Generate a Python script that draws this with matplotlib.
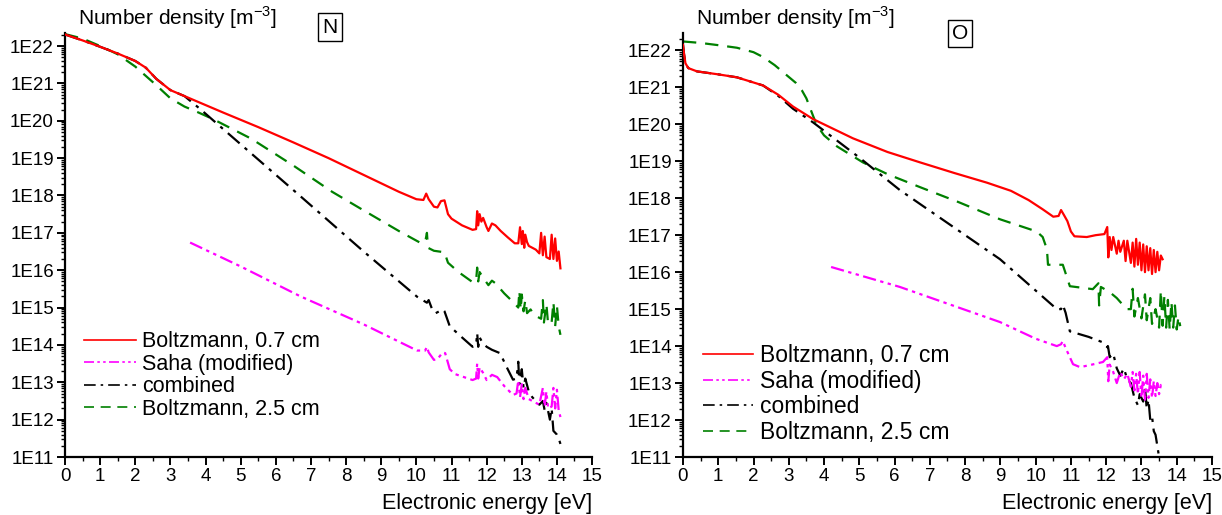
import numpy as np
import matplotlib
matplotlib.use('Agg')
import matplotlib.pyplot as plt
from matplotlib.ticker import LogLocator, MultipleLocator, FuncFormatter, NullFormatter

plt.rcParams['font.family'] = ['Liberation Sans', 'DejaVu Sans']

# values are log10 of number density [m^-3]
# --- N panel ---
n_red_x = [0, 0.5, 1.0, 1.5, 2.0, 2.3, 2.6, 3.0, 3.4, 3.8, 4.5, 5.5, 6.5, 7.5, 8.5, 9.5, 10.0,
           10.2, 10.28, 10.35, 10.5, 10.6, 10.7, 10.8, 10.9, 11.0, 11.3, 11.6, 11.7, 11.73, 11.76,
           11.8, 11.85, 11.9, 12.0, 12.05, 12.15, 12.25, 12.4, 12.6, 12.8,
           12.9, 12.95, 13.0, 13.03, 13.07, 13.1, 13.15, 13.2, 13.3, 13.4, 13.5, 13.55, 13.6,
           13.65, 13.7, 13.8, 13.85, 13.9, 13.95, 14.0, 14.05, 14.1]
n_red_y = [22.31, 22.15, 21.98, 21.8, 21.6, 21.42, 21.12, 20.82, 20.66, 20.5, 20.22, 19.83, 19.42,
           19.0, 18.55, 18.1, 17.9, 17.88, 18.05, 17.9, 17.7, 17.68, 17.85, 17.87, 17.5, 17.38,
           17.2, 17.08, 17.1, 17.58, 17.2, 17.5, 17.3, 17.4, 17.15, 17.05, 17.25, 17.2, 17.05,
           16.88, 16.72,
           16.72, 17.15, 16.7, 17.05, 16.6, 16.95, 16.75, 16.65, 16.6, 16.55, 16.45, 17.0, 16.4,
           16.9, 16.35, 16.3, 16.95, 16.3, 16.85, 16.25, 16.5, 16.05]

n_saha_x = [3.56, 5.0, 6.7, 8.5, 10.02, 10.25, 10.3, 10.35, 10.5, 10.6, 10.75, 10.82, 10.95, 11.1,
            11.6, 11.7, 11.73, 11.76, 11.8, 11.9, 12.0, 12.15, 12.3, 12.5, 12.75,
            12.85, 12.9, 12.95, 13.0, 13.05, 13.1, 13.2, 13.3, 13.4, 13.5, 13.6, 13.65, 13.7,
            13.75, 13.85, 13.9, 13.95, 14.0, 14.05, 14.1]
n_saha_y = [16.74, 16.1, 15.3, 14.55, 13.85, 13.85, 13.95, 13.8, 13.6, 13.62, 13.8, 13.78, 13.35,
            13.22, 13.06, 13.1, 13.5, 13.1, 13.4, 13.25, 13.06, 13.2, 13.14, 12.9, 12.66,
            12.7, 13.05, 12.6, 12.95, 12.55, 12.85, 12.55, 12.5, 12.45, 12.4, 12.85, 12.35, 12.75,
            12.3, 12.35, 12.85, 12.3, 12.8, 12.25, 12.07]

n_comb_x = [0, 0.5, 1.0, 1.5, 2.0, 2.3, 2.6, 3.0, 3.4, 3.84, 4.78, 6.7, 8.5, 10.02, 10.3, 10.35,
            10.45, 10.55, 10.75, 10.8, 10.95, 11.3, 11.6, 11.7, 11.73, 11.76, 11.8, 11.87, 12.0,
            12.15, 12.38, 12.6, 12.75,
            12.85, 12.9, 12.93, 13.0, 13.05, 13.1, 13.2, 13.3, 13.4, 13.5, 13.6, 13.65, 13.7,
            13.8, 13.85, 13.9, 14.0, 14.05, 14.1]
n_comb_y = [22.31, 22.15, 21.98, 21.8, 21.6, 21.42, 21.12, 20.82, 20.66, 20.32, 19.55, 17.98, 16.5,
            15.29, 15.13, 15.2, 14.95, 14.85, 14.95, 14.9, 14.5, 14.2, 13.95, 14.0, 14.32, 13.95,
            14.2, 14.08, 13.95, 13.87, 13.78, 13.35, 13.07,
            13.1, 13.55, 12.95, 13.35, 12.85, 13.1, 12.75, 12.6, 12.5, 12.4, 12.5, 12.25, 12.45,
            12.0, 12.3, 11.7, 11.6, 11.5, 11.35]

n_b25_x = [0, 0.5, 1.0, 1.5, 2.0, 2.3, 2.6, 3.0, 3.4, 3.8, 4.2, 5.3, 6.5, 7.6, 8.5, 9.5, 10.1,
           10.25, 10.3, 10.33, 10.5, 10.8, 10.9, 11.2, 11.6, 11.7, 11.73, 11.76, 11.8, 11.9,
           12.05, 12.15, 12.25, 12.5, 12.75,
           12.9, 12.93, 12.97, 13.0, 13.05, 13.1, 13.15, 13.25, 13.35, 13.45, 13.55, 13.6, 13.63,
           13.7, 13.75, 13.85, 13.9, 13.95, 14.0, 14.05, 14.1]
n_b25_y = [22.32, 22.2, 22.0, 21.78, 21.45, 21.2, 20.95, 20.6, 20.38, 20.22, 20.05, 19.52, 18.8,
           18.1, 17.6, 17.05, 16.74, 16.75, 17.0, 16.6, 16.52, 16.48, 16.2, 15.95, 15.68, 15.72,
           16.07, 15.7, 15.95, 15.8, 15.6, 15.72, 15.65, 15.38, 15.15,
           15.0, 15.45, 14.95, 15.35, 14.9, 15.2, 14.85, 14.95, 14.8, 14.75, 14.7, 15.2, 14.6,
           15.1, 14.55, 14.6, 15.15, 14.5, 15.05, 14.5, 14.27]

# --- O panel ---
o_red_x = [0, 0.03, 0.07, 0.15, 0.4, 1.0, 1.53, 2.27, 2.7, 3.12, 3.69, 4.82, 5.8, 6.72, 7.7, 8.62,
           9.3, 9.8, 10.2, 10.5, 10.65, 10.72, 10.8, 10.9, 11.0, 11.1, 11.45, 11.7, 11.95, 12.03,
           12.06, 12.1, 12.15, 12.2, 12.3, 12.35, 12.4, 12.5, 12.55, 12.6, 12.7, 12.75, 12.8,
           12.85, 12.9, 12.95, 13.0, 13.05, 13.1, 13.15, 13.2, 13.25, 13.3, 13.35, 13.4, 13.45,
           13.5, 13.55, 13.6]
o_red_y = [22.15, 21.9, 21.65, 21.52, 21.43, 21.35, 21.27, 21.05, 20.8, 20.48, 20.14, 19.62, 19.25,
           18.97, 18.68, 18.42, 18.2, 17.95, 17.7, 17.5, 17.52, 17.68, 17.55, 17.38, 17.1, 16.97,
           16.95, 17.0, 17.03, 17.22,
           16.4, 16.95, 16.6, 16.95, 16.5, 16.85, 16.55, 16.85, 16.3, 16.85, 16.25, 16.8, 16.15,
           16.9, 16.2, 16.8, 16.05, 16.75, 16.0, 16.7, 16.05, 16.65, 15.95, 16.6, 16.0, 16.55,
           16.05, 16.45, 16.35]

o_saha_x = [4.2, 6.15, 8.99, 10.0, 10.6, 10.72, 10.77, 10.85, 11.06, 11.26, 11.6, 11.91, 12.03,
            12.06, 12.1, 12.2, 12.3, 12.4, 12.5, 12.6, 12.7, 12.75, 12.8, 12.85, 12.9, 12.95,
            13.0, 13.05, 13.1, 13.15, 13.2, 13.25, 13.3, 13.35, 13.4, 13.45, 13.5, 13.55, 13.6]
o_saha_y = [16.14, 15.6, 14.65, 14.2, 14.0, 14.05, 14.14, 13.95, 13.51, 13.43, 13.5, 13.57, 13.7,
            13.05, 13.5, 13.3, 13.0, 13.3, 13.1, 13.25, 12.9, 13.3, 12.8, 13.25, 12.7, 13.3,
            12.6, 13.2, 12.55, 13.25, 12.6, 13.1, 12.6, 13.05, 12.65, 13.0, 12.7, 12.95, 12.85]

o_comb_x = [0, 0.03, 0.07, 0.15, 0.4, 1.0, 1.53, 2.27, 2.7, 3.12, 3.69, 5.0, 6.15, 8.99, 10.6,
            10.72, 10.77, 10.85, 10.97, 11.5, 11.91, 12.03, 12.05, 12.1, 12.2, 12.3, 12.4, 12.5,
            12.6, 12.7, 12.8, 12.9, 12.95, 13.05, 13.1, 13.15, 13.2, 13.25, 13.3, 13.35, 13.4,
            13.45, 13.5]
o_comb_y = [22.15, 21.9, 21.65, 21.52, 21.43, 21.35, 21.27, 21.05, 20.77, 20.42, 20.05, 19.1, 18.22,
            16.35, 15.0, 15.0, 15.12, 14.9, 14.4, 14.25, 14.1, 13.97, 14.0, 13.7, 13.8, 13.4,
            13.2, 13.4, 13.1, 13.0, 12.6, 12.4, 12.7, 12.5, 12.9, 12.3, 12.55, 12.0, 12.1, 11.7,
            11.6, 11.3, 11.0]

o_b25_x = [0, 0.5, 1.0, 1.53, 2.0, 2.27, 2.6, 2.95, 3.2, 3.37, 3.5, 3.6, 3.7, 3.8, 4.0, 4.37, 5.1,
           5.8, 6.72, 7.8, 8.99, 10.03, 10.2, 10.32, 10.35, 10.6, 10.77, 10.97, 11.3, 11.62,
           11.78, 11.8, 11.85, 12.1, 12.3, 12.58,
           12.7, 12.75, 12.8, 12.9, 13.0, 13.1, 13.15, 13.25, 13.3, 13.4, 13.5, 13.55, 13.6,
           13.65, 13.7, 13.75, 13.8, 13.85, 13.9, 13.95, 14.0, 14.05, 14.1]
o_b25_y = [22.24, 22.2, 22.14, 22.07, 21.95, 21.82, 21.6, 21.32, 21.12, 20.92, 20.7, 20.45, 20.2,
           19.97, 19.7, 19.4, 18.97, 18.65, 18.3, 17.9, 17.43, 17.1, 16.95, 16.62, 16.2, 16.2,
           16.2, 15.62, 15.58, 15.54, 15.7, 15.1, 15.6, 15.46, 15.3, 15.0,
           15.0, 15.55, 14.8, 15.3, 14.75, 15.4, 14.7, 15.3, 14.6, 15.0, 14.5, 15.5, 14.55,
           15.35, 14.5, 15.25, 14.45, 15.2, 14.5, 15.1, 14.45, 14.8, 14.54]

labels = ['Boltzmann, 0.7 cm', 'Saha (modified)', 'combined', 'Boltzmann, 2.5 cm']
colors = ['#ff0000', '#ff00ff', '#000000', '#008000']
styles = ['-', (0, (6, 2, 1.5, 2, 1.5, 2)), (0, (7, 3, 1.5, 3)), (0, (6, 4))]
zorders = [5, 4, 3, 2]

panels = [
    ('N', [(n_red_x, n_red_y), (n_saha_x, n_saha_y), (n_comb_x, n_comb_y), (n_b25_x, n_b25_y)], 22.35),
    ('O', [(o_red_x, o_red_y), (o_saha_x, o_saha_y), (o_comb_x, o_comb_y), (o_b25_x, o_b25_y)], 22.47),
]

fig = plt.figure(figsize=(12.22, 5.15), dpi=100)
boxes = [[0.0532, 0.1126, 0.4313, 0.8234], [0.5589, 0.1126, 0.4329, 0.8234]]
box_pos = [(0.503, 1.014), (0.524, 0.998)]
leg_font = [15.5, 16.5]
leg_space = [0.07, 0.12]
leg_handle = [2.4, 2.2]
leg_anchor = [(0.02, 0.068), (0.02, 0.009)]

for k, (name, series, ytop) in enumerate(panels):
    ax = fig.add_axes(boxes[k])
    for (xs, ys), lab, c, ls, z in zip(series, labels, colors, styles, zorders):
        ax.plot(xs, 10 ** np.array(ys), color=c, linestyle=ls, lw=1.6, label=lab, zorder=z)
    ax.set_yscale('log')
    ax.set_xlim(0, 15)
    ax.set_ylim(1e11, 10 ** ytop)
    ax.spines['top'].set_visible(False)
    ax.spines['right'].set_visible(False)
    ax.spines['left'].set_linewidth(1.6)
    ax.spines['bottom'].set_linewidth(1.6)
    ax.xaxis.set_major_locator(MultipleLocator(1))
    ax.xaxis.set_minor_locator(MultipleLocator(0.5))
    ax.yaxis.set_major_locator(LogLocator(base=10, numticks=20))
    ax.yaxis.set_minor_locator(LogLocator(base=10, subs=np.arange(2, 10), numticks=20))
    ax.yaxis.set_major_formatter(FuncFormatter(lambda v, p: '1E%d' % round(np.log10(v))))
    ax.yaxis.set_minor_formatter(NullFormatter())
    ax.tick_params(which='major', direction='out', length=6, width=1.4, labelsize=13.5, pad=2)
    ax.tick_params(which='minor', direction='out', length=3, width=1.0)
    ax.set_xlabel('Electronic energy [eV]', loc='right', fontsize=15.5, labelpad=6)
    ax.text(0.025, 1.005, 'Number density [m$^{\\mathregular{-3}}$]', transform=ax.transAxes,
            fontsize=15, va='bottom', ha='left')
    ax.text(box_pos[k][0], box_pos[k][1], name, transform=ax.transAxes, fontsize=15,
            ha='center', va='center',
            bbox=dict(boxstyle='square,pad=0.2', fc='white', ec='black', lw=1))
    leg = ax.legend(loc='lower left', bbox_to_anchor=leg_anchor[k], frameon=False,
                    fontsize=leg_font[k], handlelength=leg_handle[k], handletextpad=0.3,
                    labelspacing=leg_space[k], borderaxespad=0)
    for h in leg.get_lines():
        h.set_linewidth(1.2)

fig.savefig('out.png', dpi=100)
